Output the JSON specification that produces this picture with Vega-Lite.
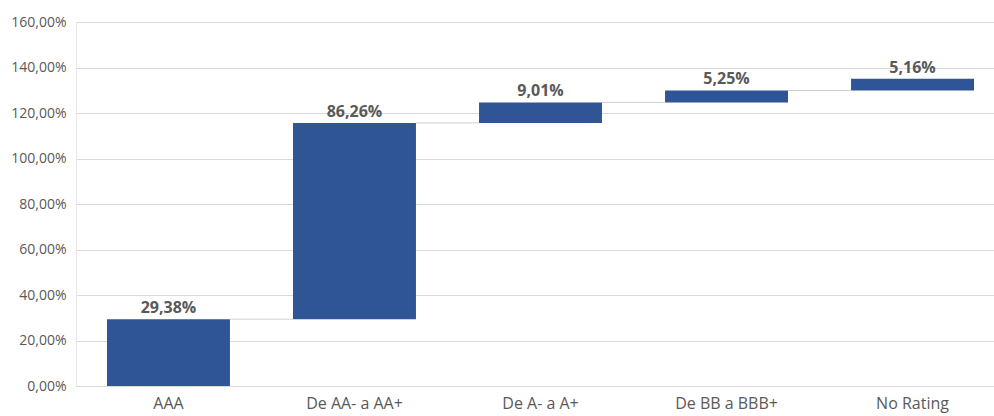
{
  "$schema": "https://vega.github.io/schema/vega-lite/v6.json",
  "width": 918,
  "height": 364,
  "autosize": {"type": "none"},
  "padding": {"left": 76, "top": 22, "right": 0, "bottom": 30},
  "config": {
    "locale": {"number": {"decimal": ",", "thousands": ".", "grouping": [3], "currency": ["", " €"]}},
    "view": {"stroke": null},
    "font": "Open Sans"
  },
  "datasets": {
    "bars": [
      {"category": "AAA", "start": 0, "end": 0.2938, "delta": 0.2938},
      {"category": "De AA- a AA+", "start": 0.2938, "end": 1.1564, "delta": 0.8626},
      {"category": "De A- a A+", "start": 1.1564, "end": 1.2465, "delta": 0.0901},
      {"category": "De BB a BBB+", "start": 1.2465, "end": 1.299, "delta": 0.0525},
      {"category": "No Rating", "start": 1.299, "end": 1.3506, "delta": 0.0516}
    ],
    "links": [
      {"from": "AAA", "to": "De AA- a AA+", "level": 0.2938},
      {"from": "De AA- a AA+", "to": "De A- a A+", "level": 1.1564},
      {"from": "De A- a A+", "to": "De BB a BBB+", "level": 1.2465},
      {"from": "De BB a BBB+", "to": "No Rating", "level": 1.299}
    ]
  },
  "layer": [
    {
      "data": {"name": "bars"},
      "mark": {"type": "bar", "color": "#2F5597"},
      "encoding": {
        "x": {
          "field": "category",
          "type": "nominal",
          "title": null,
          "scale": {
            "domain": ["AAA", "De AA- a AA+", "De A- a A+", "De BB a BBB+", "No Rating"],
            "paddingInner": 0.339,
            "paddingOuter": 0.137,
            "align": 0.608
          },
          "axis": {
            "labelAngle": 0,
            "labelAlign": "center",
            "labelFontSize": 16,
            "labelColor": "#595959",
            "ticks": false,
            "domainColor": "#d9d9d9",
            "labelPadding": 9,
            "grid": false
          }
        },
        "y": {
          "field": "start",
          "type": "quantitative",
          "title": null,
          "scale": {"domain": [0, 1.6], "nice": false},
          "axis": {
            "values": [0, 0.2, 0.4, 0.6, 0.8, 1.0, 1.2, 1.4, 1.6],
            "format": ".2%",
            "gridColor": "#d9d9d9",
            "labelColor": "#595959",
            "labelFontSize": 14,
            "ticks": false,
            "domainColor": "#e6e6e6",
            "labelPadding": 10
          }
        },
        "y2": {"field": "end"}
      }
    },
    {
      "data": {"name": "links"},
      "mark": {"type": "rule", "color": "#d0d0d0", "strokeWidth": 1},
      "encoding": {
        "x": {"field": "from", "type": "nominal", "title": null, "bandPosition": 1},
        "x2": {"field": "to", "bandPosition": 0},
        "y": {"field": "level", "type": "quantitative", "title": null}
      }
    },
    {
      "data": {"name": "bars"},
      "mark": {"type": "text", "fontWeight": "bold", "fontSize": 16, "color": "#595959", "baseline": "bottom", "dy": -3},
      "encoding": {
        "x": {"field": "category", "type": "nominal", "title": null},
        "y": {"field": "end", "type": "quantitative", "title": null},
        "text": {"field": "delta", "type": "quantitative", "format": ".2%"}
      }
    }
  ]
}
